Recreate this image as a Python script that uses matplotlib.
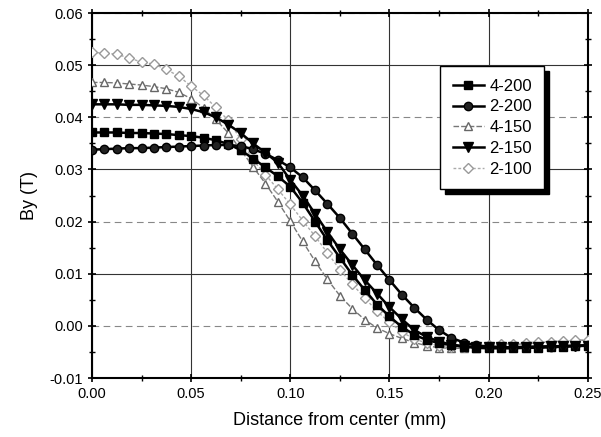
import numpy as np
import matplotlib
matplotlib.use("Agg")
import matplotlib.pyplot as plt
from matplotlib.patches import Rectangle

plt.rcParams['font.family'] = ['Liberation Sans', 'DejaVu Sans']

# distance from center (mm), marker spacing 0.00625
x = np.linspace(0, 0.25, 41)

s_4_200 = [0.0371, 0.0371, 0.0371, 0.0370, 0.0370, 0.0369, 0.0368, 0.0366, 0.0364, 0.0361,
           0.0356, 0.0349, 0.0337, 0.0321, 0.0304, 0.0287, 0.0267, 0.0236, 0.0200, 0.0164,
           0.0131, 0.0098, 0.0069, 0.0041, 0.0018, -0.0002, -0.0017, -0.0027, -0.0033, -0.0037,
           -0.0040, -0.0042, -0.0043, -0.0043, -0.0043, -0.0042, -0.0042, -0.0041, -0.0040, -0.0039, -0.0038]
s_2_200 = [0.0338, 0.0339, 0.0340, 0.0341, 0.0341, 0.0342, 0.0343, 0.0344, 0.0345, 0.0346,
           0.0347, 0.0347, 0.0345, 0.0339, 0.0330, 0.0318, 0.0304, 0.0285, 0.0260, 0.0234,
           0.0207, 0.0177, 0.0147, 0.0117, 0.0088, 0.0060, 0.0035, 0.0012, -0.0008, -0.0023,
           -0.0032, -0.0037, -0.0040, -0.0041, -0.0041, -0.0041, -0.0040, -0.0040, -0.0039, -0.0038, -0.0037]
s_4_150 = [0.0467, 0.0467, 0.0466, 0.0464, 0.0462, 0.0459, 0.0455, 0.0448, 0.0436, 0.0418,
           0.0396, 0.0370, 0.0338, 0.0305, 0.0273, 0.0238, 0.0201, 0.0162, 0.0124, 0.0089,
           0.0058, 0.0033, 0.0012, -0.0004, -0.0015, -0.0024, -0.0032, -0.0038, -0.0042, -0.0043,
           -0.0043, -0.0042, -0.0040, -0.0038, -0.0036, -0.0034, -0.0032, -0.0031, -0.0029, -0.0028, -0.0027]
s_2_150 = [0.0425, 0.0425, 0.0425, 0.0424, 0.0424, 0.0423, 0.0422, 0.0420, 0.0416, 0.0410,
           0.0400, 0.0386, 0.0370, 0.0350, 0.0332, 0.0313, 0.0280, 0.0250, 0.0215, 0.0180,
           0.0147, 0.0117, 0.0088, 0.0062, 0.0036, 0.0013, -0.0008, -0.0021, -0.0030, -0.0036,
           -0.0039, -0.0040, -0.0041, -0.0041, -0.0041, -0.0040, -0.0040, -0.0039, -0.0039, -0.0038, -0.0038]
s_2_100 = [0.0525, 0.0523, 0.0521, 0.0514, 0.0506, 0.0502, 0.0492, 0.0479, 0.0460, 0.0442,
           0.0419, 0.0394, 0.0358, 0.0318, 0.0290, 0.0262, 0.0233, 0.0202, 0.0172, 0.0140,
           0.0108, 0.0080, 0.0054, 0.0028, 0.0007, -0.0012, -0.0025, -0.0033, -0.0038, -0.0040,
           -0.0040, -0.0039, -0.0037, -0.0035, -0.0034, -0.0032, -0.0031, -0.0030, -0.0029, -0.0028, -0.0027]

labels = ['4-200', '2-200', '4-150', '2-150', '2-100']
xticks = [0.00, 0.05, 0.10, 0.15, 0.20, 0.25]
yticks = [-0.01, 0.00, 0.01, 0.02, 0.03, 0.04, 0.05, 0.06]

fig = plt.figure(figsize=(6.01, 4.37), dpi=100)
ax = fig.add_axes([0.153, 0.135, 0.825, 0.835])

ax.plot(x, s_4_200, color='black', lw=1.8, marker='s', ms=6, mfc='black', mec='black', label=labels[0], zorder=5)
ax.plot(x, s_2_200, color='black', lw=1.8, marker='o', ms=6, mfc='#222222', mec='black', label=labels[1], zorder=5)
ax.plot(x, s_4_150, color='#777777', lw=1.0, ls=(0, (4, 1.5)), marker='^', ms=6, mfc='white', mec='#666666', label=labels[2], zorder=4)
ax.plot(x, s_2_150, color='black', lw=1.8, marker='v', ms=7, mfc='black', mec='black', label=labels[3], zorder=5)
ax.plot(x, s_2_100, color='#aaaaaa', lw=1.0, ls=(0, (2, 1.5)), marker='D', ms=5, mfc='white', mec='#999999', label=labels[4], zorder=4)

ax.set_xlim(0, 0.25)
ax.set_ylim(-0.01, 0.06)
ax.set_xticks(xticks)
ax.set_yticks(yticks)
ax.set_xticklabels([f'{v:.2f}' for v in xticks])
ax.set_yticklabels([f'{v:.2f}' for v in yticks])
ax.set_xticks([0.025, 0.075, 0.125, 0.175, 0.225], minor=True)
ax.set_yticks(np.arange(-0.005, 0.06, 0.01), minor=True)
ax.tick_params(which='major', direction='inout', length=6, width=1.2, labelsize=10.5, top=True, right=True)
ax.tick_params(which='minor', direction='inout', length=4, width=1.0, top=True, right=True)
ax.get_xticklabels()[-1].set_horizontalalignment('right')
ax.get_xticklabels()[-1].set_x(0.25)
for lab in ax.get_xticklabels()[-1:]:
    lab.set_horizontalalignment('center')

ax.grid(True, which='major', color='#333333', lw=0.8)
for i, gl in enumerate(ax.get_ygridlines()):
    v = yticks[i]
    if round(v * 100) % 2 == 0:
        gl.set_linestyle((0, (6, 4)))
        gl.set_color('#888888')
ax.set_axisbelow(True)

for sp in ax.spines.values():
    sp.set_linewidth(1.5)

ax.set_xlabel('Distance from center (mm)', fontsize=13, labelpad=8)
ax.set_ylabel('By (T)', fontsize=13, labelpad=8)

leg = ax.legend(loc='upper left', bbox_to_anchor=(0.702, 0.855), borderaxespad=0, fontsize=12, frameon=True,
                fancybox=False, edgecolor='black', framealpha=1, handlelength=1.9,
                borderpad=0.75, labelspacing=0.35, handletextpad=0.3)
leg.get_frame().set_linewidth(1.0)
leg.set_zorder(10)

fig.canvas.draw()
bb = leg.get_window_extent()
inv = ax.transAxes.inverted()
(x0, y0) = inv.transform((bb.x0 + 5, bb.y0 - 5))
(x1, y1) = inv.transform((bb.x1 + 5, bb.y1 - 5))
ax.add_patch(Rectangle((x0, y0), x1 - x0, y1 - y0, transform=ax.transAxes,
                       facecolor='black', edgecolor='black', zorder=9, clip_on=False))

fig.savefig('out.png', dpi=100)
